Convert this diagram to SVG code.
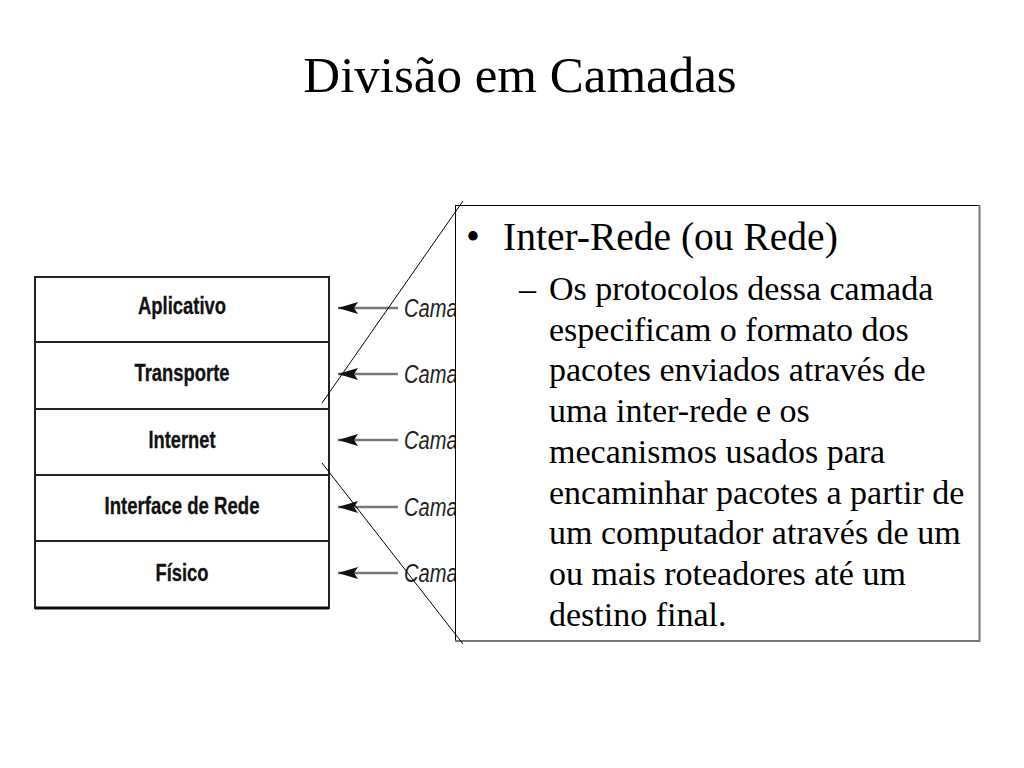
<svg xmlns="http://www.w3.org/2000/svg" width="1024" height="768" viewBox="0 0 1024 768">
<style>
.title{font-family:"Liberation Serif","Times New Roman",serif;font-size:51px;fill:#000}
.layer rect{fill:#fff;stroke:#222;stroke-width:2}
.lbl{font-family:"Liberation Sans",Arial,sans-serif;font-weight:bold;font-size:24px;fill:#111;text-anchor:middle;stroke:#111;stroke-width:0.3}
.cam{font-family:"Liberation Sans",Arial,sans-serif;font-style:italic;font-size:25px;fill:#222}
.arr{stroke:#777;stroke-width:2.5;fill:none;marker-end:url(#ah)}
.diag{stroke:#000;stroke-width:1;fill:none}
.body{font-family:"Liberation Serif","Times New Roman",serif;fill:#000}
</style>
<defs>
<marker id="ah" markerUnits="userSpaceOnUse" markerWidth="22" markerHeight="14" refX="20" refY="7" orient="auto">
<path d="M0,1 L20,7 L0,13 L4,7 Z" fill="#111"/>
</marker>
</defs>
<rect width="1024" height="768" fill="#fff"/>
<text class="title" x="520" y="92" text-anchor="middle">Divisão em Camadas</text>

<g id="stack">
<g id="layer-aplicativo" class="layer"><rect x="35" y="277" width="294" height="65"/><text class="lbl" x="182" y="314" textLength="88" lengthAdjust="spacingAndGlyphs">Aplicativo</text></g>
<g id="layer-transporte" class="layer"><rect x="35" y="342" width="294" height="67"/><text class="lbl" x="182" y="381" textLength="95" lengthAdjust="spacingAndGlyphs">Transporte</text></g>
<g id="layer-internet" class="layer"><rect x="35" y="409" width="294" height="66"/><text class="lbl" x="182" y="448" textLength="67" lengthAdjust="spacingAndGlyphs">Internet</text></g>
<g id="layer-interface" class="layer"><rect x="35" y="475" width="294" height="66"/><text class="lbl" x="182" y="514" textLength="155" lengthAdjust="spacingAndGlyphs">Interface de Rede</text></g>
<g id="layer-fisico" class="layer"><rect x="35" y="541" width="294" height="67"/><text class="lbl" x="182" y="581" textLength="53" lengthAdjust="spacingAndGlyphs">Físico</text></g>
<line x1="35" y1="608" x2="329" y2="608" stroke="#111" stroke-width="3"/>
</g>

<g id="connectors">
<line class="arr" x1="398" y1="308" x2="338" y2="308"/>
<line class="arr" x1="398" y1="374" x2="338" y2="374"/>
<line class="arr" x1="398" y1="440" x2="338" y2="440"/>
<line class="arr" x1="398" y1="507" x2="338" y2="507"/>
<line class="arr" x1="398" y1="573" x2="338" y2="573"/>
</g>

<g id="camada-labels">
<text class="cam" x="404" y="317" textLength="76" lengthAdjust="spacingAndGlyphs">Camada</text>
<text class="cam" x="404" y="383" textLength="76" lengthAdjust="spacingAndGlyphs">Camada</text>
<text class="cam" x="404" y="449" textLength="76" lengthAdjust="spacingAndGlyphs">Camada</text>
<text class="cam" x="404" y="516" textLength="76" lengthAdjust="spacingAndGlyphs">Camada</text>
<text class="cam" x="404" y="582" textLength="76" lengthAdjust="spacingAndGlyphs">Camada</text>
</g>

<g id="callout">
<rect x="455.5" y="205.5" width="524" height="435" fill="#fff" stroke="#000" stroke-width="1"/>
<polyline points="979.5,205 979.5,641 455,641" fill="none" stroke="#777" stroke-width="2"/>
<text class="body" font-size="39.5"><tspan x="466" y="250">•</tspan><tspan x="503" y="250">Inter-Rede (ou Rede)</tspan></text>
<text class="body" font-size="34">
<tspan x="519" y="300">–</tspan><tspan x="549" y="300">Os protocolos dessa camada</tspan>
<tspan x="549" y="341">especificam o formato dos</tspan>
<tspan x="549" y="381">pacotes enviados através de</tspan>
<tspan x="549" y="422">uma inter-rede e os</tspan>
<tspan x="549" y="463">mecanismos usados para</tspan>
<tspan x="549" y="504">encaminhar pacotes a partir de</tspan>
<tspan x="549" y="544">um computador através de um</tspan>
<tspan x="549" y="585">ou mais roteadores até um</tspan>
<tspan x="549" y="626">destino final.</tspan>
</text>
</g>

<g id="zoom-lines">
<line class="diag" x1="322" y1="403" x2="463" y2="201"/>
<line class="diag" x1="322" y1="463" x2="463" y2="644"/>
</g>
</svg>
